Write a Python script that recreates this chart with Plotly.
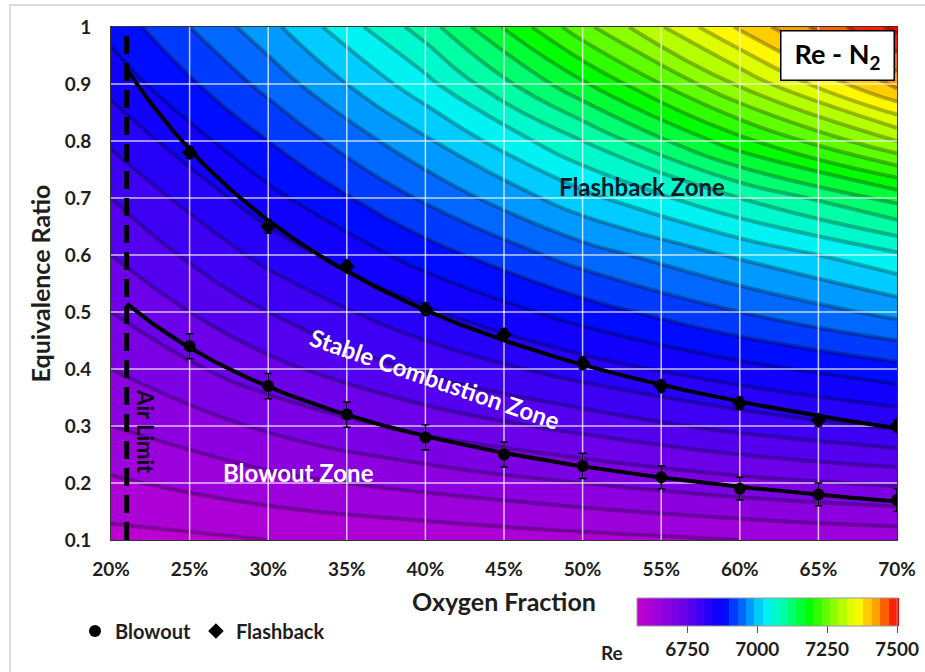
import numpy as np
import plotly.graph_objects as go

# ---------------- data ----------------
oxygen = [25, 30, 35, 40, 45, 50, 55, 60, 65, 70]
blowout = [0.44, 0.37, 0.32, 0.28, 0.25, 0.23, 0.21, 0.19, 0.18, 0.17]
blowout_err = [0.022, 0.022, 0.022, 0.022, 0.022, 0.022, 0.02, 0.02, 0.02, 0.02]
flashback = [0.78, 0.65, 0.58, 0.505, 0.46, 0.41, 0.37, 0.34, 0.31, 0.30]
flashback_err = [0.01, 0.012, 0.01, 0.01, 0.01, 0.01, 0.01, 0.01, 0.01, 0.01]

# Re field (rows: equivalence ratio, cols: oxygen %)
re_x = [20, 30, 40, 50, 60, 70]
re_y = [0.1, 0.2, 0.3, 0.4, 0.5, 0.6, 0.7, 0.8, 0.9, 1.0]
re_z = [
    [6590, 6600, 6610, 6620, 6630, 6640],
    [6625, 6650, 6670, 6690, 6710, 6725],
    [6660, 6695, 6730, 6760, 6790, 6815],
    [6690, 6740, 6785, 6825, 6860, 6890],
    [6720, 6780, 6835, 6885, 6930, 6970],
    [6750, 6820, 6885, 6945, 6995, 7045],
    [6780, 6860, 6935, 7010, 7080, 7150],
    [6815, 6900, 6985, 7080, 7190, 7290],
    [6850, 6940, 7040, 7165, 7295, 7420],
    [6880, 6980, 7095, 7250, 7385, 7510],
]
re_min, re_max, re_step = 6570, 7500, 30
cbar_ticks = [6750, 7000, 7250, 7500]

x_ticks = [20, 25, 30, 35, 40, 45, 50, 55, 60, 65, 70]
x_labels = [f"{v}%" for v in x_ticks]
y_ticks = [0.1, 0.2, 0.3, 0.4, 0.5, 0.6, 0.7, 0.8, 0.9, 1.0]
air_limit = 21

colorscale = [
    [0.00, "#c400d0"],
    [0.17, "#7000e8"],
    [0.33, "#0000ff"],
    [0.42, "#0080ff"],
    [0.49, "#00f0ff"],
    [0.57, "#00ffa0"],
    [0.66, "#00ff00"],
    [0.76, "#90ff00"],
    [0.85, "#ffff00"],
    [0.92, "#ffa000"],
    [1.00, "#ff0000"],
]

FONT = "Lato"
TXT = "#1e1e1e"

fig = go.Figure()

# filled background (with colorbar)
fig.add_trace(go.Contour(
    x=re_x, y=re_y, z=re_z,
    colorscale=colorscale, zmin=re_min, zmax=re_max,
    autocontour=False,
    contours=dict(start=re_min, end=re_max, size=re_step, coloring="fill", showlines=False),
    line=dict(smoothing=1.3, width=0),
    hoverinfo="skip", showlegend=False,
    colorbar=dict(
        orientation="h", lenmode="pixels", len=280, thickness=28,
        x=(767 - 111) / 786, xanchor="center",
        y=-(598 - 540) / 513, yanchor="top", ypad=0, xpad=10,
        tickvals=cbar_ticks, ticks="outside", ticklen=7, tickcolor="#555",
        tickfont=dict(family=FONT, size=19, color=TXT, weight="bold"),
        outlinewidth=1, outlinecolor="#999",
    ),
    showscale=True,
))
# contour lines only
fig.add_trace(go.Contour(
    x=re_x, y=re_y, z=re_z,
    autocontour=False,
    contours=dict(start=re_min, end=re_max, size=re_step, coloring="none"),
    line=dict(smoothing=1.3, width=4, color="rgba(0,0,0,0.28)"),
    showscale=False, showlegend=False, hoverinfo="skip",
))

# grid lines above the background
gx, gy = [], []
for xv in x_ticks[1:-1]:
    gx += [xv, xv, None]
    gy += [y_ticks[0], y_ticks[-1], None]
for yv in y_ticks[1:-1]:
    gx += [x_ticks[0], x_ticks[-1], None]
    gy += [yv, yv, None]
fig.add_trace(go.Scatter(x=gx, y=gy, mode="lines",
                         line=dict(color="rgba(255,255,255,0.75)", width=1.5),
                         hoverinfo="skip", showlegend=False))

# power-law trend lines fitted to the measured points
xf = np.linspace(air_limit, 70, 200)
for vals in (blowout, flashback):
    b, a = np.polyfit(np.log(oxygen), np.log(vals), 1)
    fig.add_trace(go.Scatter(x=xf, y=np.exp(a) * xf ** b, mode="lines",
                             line=dict(color="black", width=4),
                             hoverinfo="skip", showlegend=False))

fig.add_trace(go.Scatter(
    x=oxygen, y=blowout, mode="markers", name="Blowout",
    marker=dict(symbol="circle", size=12, color="black"),
    error_y=dict(type="data", array=blowout_err, color="black", thickness=1.5, width=4),
))
fig.add_trace(go.Scatter(
    x=oxygen, y=flashback, mode="markers", name="Flashback",
    marker=dict(symbol="diamond", size=12, color="black"),
    error_y=dict(type="data", array=flashback_err, color="black", thickness=1.5, width=4),
))

# air limit
fig.add_shape(type="line", x0=air_limit, x1=air_limit, y0=y_ticks[0], y1=y_ticks[-1],
              xref="x", yref="y", line=dict(color="black", width=5, dash="18px,9px"))

# outer frame of the picture
fig.add_shape(type="rect", xref="paper", yref="paper",
              x0=(10 - 111) / 786, x1=1.2, y0=-0.5, y1=(540 - 5) / 513,
              line=dict(color="#d0d0d0", width=1.5), layer="below")

ann = []
ann.append(dict(x=53.8, y=0.72, text="Flashback Zone", showarrow=False,
                font=dict(family=FONT, size=24, color="#0d1a26", weight="bold")))
ann.append(dict(x=40.6, y=0.383, text="Stable Combustion Zone", showarrow=False, textangle=19,
                font=dict(family=FONT, size=24, color="white", weight="bold")))
ann.append(dict(x=31.9, y=0.219, text="Blowout Zone", showarrow=False,
                font=dict(family=FONT, size=24, color="white", weight="bold")))
ann.append(dict(x=22.2, y=0.29, text="Air Limit", showarrow=False, textangle=90,
                font=dict(family=FONT, size=22, color="#0a0414", weight="bold")))
ann.append(dict(xref="paper", yref="paper", x=(895 - 111) / 786, y=(540 - 30) / 513,
                xanchor="right", yanchor="top", text="Re - N<sub>2</sub>", showarrow=False,
                bgcolor="white", bordercolor="black", borderwidth=1.5, borderpad=5,
                width=102, height=38,
                font=dict(family=FONT, size=27, color="black", weight="bold")))
ann.append(dict(xref="paper", yref="paper", x=(612 - 111) / 786, y=-(652 - 540) / 513,
                yanchor="middle", xanchor="center",
                text="Re", showarrow=False,
                font=dict(family=FONT, size=19, color=TXT, weight="bold")))

fig.update_layout(
    width=925, height=672,
    margin=dict(l=111, r=28, t=27, b=132, autoexpand=False),
    paper_bgcolor="white", plot_bgcolor="white",
    font=dict(family=FONT, color=TXT),
    annotations=ann,
    showlegend=True,
    legend=dict(orientation="h", x=(75 - 111) / 786, y=-(631 - 540) / 513,
                xanchor="left", yanchor="middle", itemwidth=30,
                font=dict(family=FONT, size=20, color=TXT, weight="bold"),
                bgcolor="rgba(0,0,0,0)"),
    xaxis=dict(range=[20, 70], tickvals=x_ticks, ticktext=x_labels, showgrid=False, zeroline=False,
               showline=True, linecolor="#333", linewidth=1, mirror=True, ticks="",
               ticklabelstandoff=12,
               tickfont=dict(family=FONT, size=19, color=TXT, weight="bold"),
               title=dict(text="Oxygen Fraction", standoff=14,
                          font=dict(family=FONT, size=25, color=TXT, weight="bold"))),
    yaxis=dict(range=[0.1, 1.0], tickvals=y_ticks, showgrid=False, zeroline=False,
               showline=True, linecolor="#333", linewidth=1, mirror=True, ticks="",
               ticklabelstandoff=15,
               tickfont=dict(family=FONT, size=19, color=TXT, weight="bold"),
               title=dict(text="Equivalence Ratio", standoff=6,
                          font=dict(family=FONT, size=25, color=TXT, weight="bold"))),
)

fig.write_html("out.html")
